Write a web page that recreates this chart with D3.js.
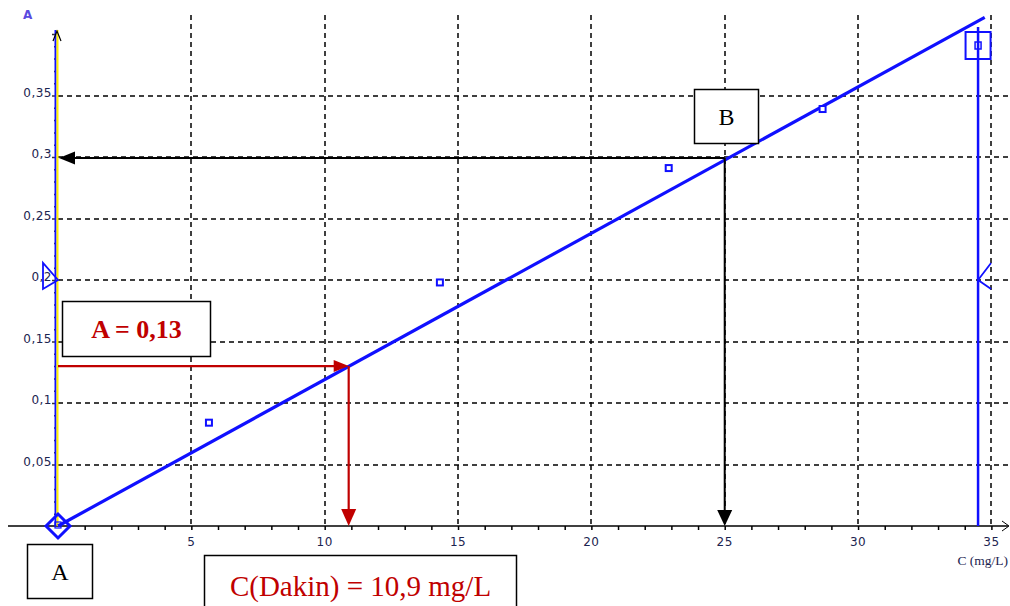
<!DOCTYPE html>
<html>
<head>
<meta charset="utf-8">
<script src="https://cdn.jsdelivr.net/npm/d3@7"></script>
<style>
  body { margin: 0; background: #fff; }
  svg { display: block; }
</style>
</head>
<body>
<script>
'use strict';

// measured points (C in mg/L, absorbance A)
var concentrations = [0, 5.66, 14.32, 22.9, 28.67];
var absorbances = [0, 0.084, 0.198, 0.291, 0.339];
var slope = 0.0119;
var lineEnd = 34.75;
var cursorX = 34.5;

var xTicks = [5, 10, 15, 20, 25, 30, 35];
var yTicks = [0.05, 0.1, 0.15, 0.2, 0.25, 0.3, 0.35];
var xLabels = ['5', '10', '15', '20', '25', '30', '35'];
var yLabels = ['0,05', '0,1', '0,15', '0,2', '0,25', '0,3', '0,35'];

// readings
var sampleA = 0.13, sampleC = 10.9;
var pointB = [25, 0.3];

var width = 1010, height = 606;
var svg = d3.select('body').append('svg').attr('width', width).attr('height', height);

var x = d3.scaleLinear().domain([0, 35]).range([58, 991.4]);
var y = d3.scaleLinear().domain([0, 0.35]).range([526, 95.5]);

var red = '#c00000';
var blue = '#1010ff';
var labelColor = '#1c2450';

// grid
var grid = svg.append('g').attr('stroke', '#000').attr('stroke-width', 1.5).attr('stroke-dasharray', '5,4');
grid.selectAll('.vg').data(xTicks).enter().append('line')
    .attr('x1', function (d) { return Math.round(x(d)); })
    .attr('x2', function (d) { return Math.round(x(d)); })
    .attr('y1', 15).attr('y2', y(0));
grid.selectAll('.hg').data(yTicks).enter().append('line')
    .attr('y1', function (d) { return Math.round(y(d)); })
    .attr('y2', function (d) { return Math.round(y(d)); })
    .attr('x1', x(0)).attr('x2', width);

// x axis
var xAxis = d3.axisBottom(x).tickValues(d3.range(1, 36)).tickSize(4).tickFormat('');
var gx = svg.append('g').attr('transform', 'translate(0,' + y(0) + ')').call(xAxis);
gx.select('.domain').remove();
gx.selectAll('line').attr('stroke', '#000').attr('stroke-width', 1.5);
svg.append('line').attr('x1', 8).attr('x2', 1008).attr('y1', y(0)).attr('y2', y(0))
    .attr('stroke', '#000').attr('stroke-width', 1.5);
svg.append('path').attr('d', 'M1002,521 L1009,526 L1002,531').attr('fill', 'none').attr('stroke', '#000');

svg.selectAll('.xl').data(xTicks).enter().append('text')
    .attr('x', function (d) { return x(d); })
    .attr('y', 546)
    .attr('text-anchor', 'middle')
    .attr('font-family', 'DejaVu Sans, sans-serif')
    .attr('font-size', 12)
    .attr('letter-spacing', 0.5)
    .attr('fill', labelColor)
    .text(function (d, i) { return xLabels[i]; });

svg.append('text').attr('x', 1008).attr('y', 565).attr('text-anchor', 'end')
    .attr('font-family', 'Liberation Serif, serif').attr('font-size', 13.5).attr('fill', labelColor)
    .text('C (mg/L)');

// y axis
var yAxis = d3.axisLeft(y).tickValues(d3.range(1, 41).map(function (i) { return i / 100; }))
    .tickSize(2).tickFormat('');
var gy = svg.append('g').attr('transform', 'translate(' + 56 + ',0)').call(yAxis);
gy.select('.domain').remove();
gy.selectAll('line').attr('stroke', '#333').attr('stroke-width', 1.5);
gy.selectAll('.tick').filter(function (d) { return Math.round(d * 100) % 5 === 0; })
    .select('line').attr('x2', -4);

svg.append('line').attr('x1', 55.5).attr('x2', 55.5).attr('y1', 30).attr('y2', y(0))
    .attr('stroke', blue).attr('stroke-width', 2);
svg.append('line').attr('x1', 57.5).attr('x2', 57.5).attr('y1', 30).attr('y2', y(0))
    .attr('stroke', '#ffee00').attr('stroke-width', 2);
svg.append('path').attr('d', 'M53,41 L57,31 L61,41').attr('fill', 'none').attr('stroke', '#000').attr('stroke-width', 1.2);

svg.selectAll('.yl').data(yTicks).enter().append('text')
    .attr('x', 52)
    .attr('y', function (d) { return y(d) + 1; })
    .attr('text-anchor', 'end')
    .attr('font-family', 'DejaVu Sans, sans-serif')
    .attr('font-size', 12)
    .attr('letter-spacing', 0.5)
    .attr('fill', labelColor)
    .text(function (d, i) { return yLabels[i]; });

svg.append('text').attr('x', 23).attr('y', 19)
    .attr('font-family', 'DejaVu Sans, sans-serif').attr('font-size', 12).attr('font-weight', 'bold')
    .attr('fill', '#5a4ae0').text('A');

// cursor on the right
svg.append('line').attr('x1', x(cursorX)).attr('x2', x(cursorX)).attr('y1', 27).attr('y2', y(0))
    .attr('stroke', blue).attr('stroke-width', 2.5);
svg.append('rect').attr('x', x(cursorX) - 12.5).attr('y', 32).attr('width', 25).attr('height', 27)
    .attr('fill', 'none').attr('stroke', blue).attr('stroke-width', 2);
svg.append('rect').attr('x', x(cursorX) - 3).attr('y', 42).attr('width', 6).attr('height', 7)
    .attr('fill', 'none').attr('stroke', blue).attr('stroke-width', 1.5);
svg.append('path')
    .attr('d', 'M' + (x(cursorX) + 13) + ',263 L' + x(cursorX) + ',' + y(0.2) + ' L' + (x(cursorX) + 13) + ',289')
    .attr('fill', 'none').attr('stroke', blue).attr('stroke-width', 1.8);
svg.append('path')
    .attr('d', 'M43,263 L43,289 L' + x(0) + ',' + y(0.2) + ' Z')
    .attr('fill', 'none').attr('stroke', blue).attr('stroke-width', 1.8);

// regression line
svg.append('line')
    .attr('x1', x(0)).attr('y1', y(0))
    .attr('x2', x(lineEnd)).attr('y2', y(slope * lineEnd))
    .attr('stroke', blue).attr('stroke-width', 3.2);

// data points
svg.selectAll('.pt').data(concentrations.slice(1)).enter().append('rect')
    .attr('x', function (d) { return x(d) - 3; })
    .attr('y', function (d, i) { return y(absorbances[i + 1]) - 3; })
    .attr('width', 6).attr('height', 6)
    .attr('fill', '#fff').attr('stroke', blue).attr('stroke-width', 2);

// origin marker
var ox = x(concentrations[0]), oy = y(absorbances[0]);
svg.append('path')
    .attr('d', 'M' + (ox - 12) + ',' + oy + ' L' + ox + ',' + (oy - 12) + ' L' + (ox + 12) + ',' + oy + ' L' + ox + ',' + (oy + 12) + ' Z')
    .attr('fill', 'none').attr('stroke', blue).attr('stroke-width', 3);
svg.append('rect').attr('x', ox - 3).attr('y', oy - 4).attr('width', 6).attr('height', 6)
    .attr('fill', 'none').attr('stroke', blue).attr('stroke-width', 1.2);

// arrows
function arrowHead(tx, ty, dir, color, len, half) {
    var d;
    if (dir === 'down') d = 'M' + tx + ',' + ty + ' L' + (tx - half) + ',' + (ty - len) + ' L' + (tx + half) + ',' + (ty - len) + ' Z';
    if (dir === 'left') d = 'M' + tx + ',' + ty + ' L' + (tx + len) + ',' + (ty - half) + ' L' + (tx + len) + ',' + (ty + half) + ' Z';
    if (dir === 'right') d = 'M' + tx + ',' + ty + ' L' + (tx - len) + ',' + (ty - half) + ' L' + (tx - len) + ',' + (ty + half) + ' Z';
    svg.append('path').attr('d', d).attr('fill', color);
}

// black: B reading
var bx = x(pointB[0]), by = y(pointB[1]) + 1;
svg.append('line').attr('x1', bx).attr('x2', x(0) + 12).attr('y1', by).attr('y2', by)
    .attr('stroke', '#000').attr('stroke-width', 2);
arrowHead(x(0) + 1, by, 'left', '#000', 16, 6.5);
svg.append('line').attr('x1', bx).attr('x2', bx).attr('y1', by).attr('y2', y(0) - 12)
    .attr('stroke', '#000').attr('stroke-width', 2);
arrowHead(bx, y(0), 'down', '#000', 16, 7.5);

// red: sample reading
var sx = x(sampleC), sy = y(sampleA);
svg.append('line').attr('x1', x(0)).attr('x2', sx - 12).attr('y1', sy).attr('y2', sy)
    .attr('stroke', red).attr('stroke-width', 2.2);
arrowHead(sx, sy, 'right', red, 15, 6);
svg.append('line').attr('x1', sx).attr('x2', sx).attr('y1', sy).attr('y2', y(0) - 12)
    .attr('stroke', red).attr('stroke-width', 2.2);
arrowHead(sx, y(0), 'down', red, 17, 7.5);

// text boxes
function box(x0, y0, w, h, label, color, size, weight) {
    svg.append('rect').attr('x', x0).attr('y', y0).attr('width', w).attr('height', h)
        .attr('fill', '#fff').attr('stroke', '#000').attr('stroke-width', 1.5);
    svg.append('text').attr('x', x0 + w / 2).attr('y', y0 + h / 2)
        .attr('dy', '0.35em').attr('text-anchor', 'middle')
        .attr('font-family', 'Liberation Serif, Times New Roman, serif')
        .attr('font-size', size).attr('font-weight', weight).attr('fill', color)
        .text(label);
}
box(694.5, 89.5, 64, 54, 'B', '#000', 24, 'normal');
box(62.5, 301.5, 148, 55, 'A = ' + String(sampleA).replace('.', ','), red, 26, 'bold');
box(27.5, 544.5, 65, 54, 'A', '#000', 24, 'normal');
box(204.5, 555.5, 312, 60, 'C(Dakin) = ' + String(sampleC).replace('.', ',') + ' mg/L', red, 29, 'normal');
</script>
</body>
</html>
